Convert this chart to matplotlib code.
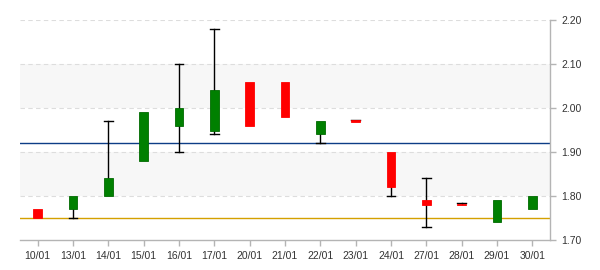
import numpy as np
import matplotlib.pyplot as plt

# daily candles
dates = ["10/01", "13/01", "14/01", "15/01", "16/01", "17/01", "20/01", "21/01",
         "22/01", "23/01", "24/01", "27/01", "28/01", "29/01", "30/01"]
opens  = [1.77, 1.77, 1.80, 1.88, 1.96, 1.948, 2.06, 2.06, 1.94, 1.972, 1.90, 1.79, 1.782, 1.74, 1.77]
closes = [1.75, 1.80, 1.84, 1.99, 2.00, 2.041, 1.96, 1.98, 1.97, 1.968, 1.82, 1.78, 1.779, 1.79, 1.80]
highs  = [1.77, 1.80, 1.97, 1.99, 2.10, 2.18, 2.06, 2.06, 1.97, 1.973, 1.90, 1.84, 1.784, 1.79, 1.80]
lows   = [1.75, 1.75, 1.80, 1.88, 1.90, 1.94, 1.96, 1.98, 1.92, 1.968, 1.80, 1.73, 1.779, 1.74, 1.77]

ref_line = 1.92      # dark blue reference line
floor_line = 1.75    # gold line
bands = [(1.80, 1.90), (2.00, 2.10)]
yticks = [1.70, 1.80, 1.90, 2.00, 2.10, 2.20]

plt.rcParams["font.family"] = ["Liberation Sans", "DejaVu Sans"]

fig = plt.figure(figsize=(6, 2.7), dpi=100)
ax = fig.add_axes([20 / 600, 1 - 240 / 270, 530 / 600, 220 / 270])

x = np.arange(len(dates))
for lo, hi in bands:
    ax.axhspan(lo, hi, color="#f7f7f7", zorder=0, lw=0)
for yv in yticks[1:]:
    ax.axhline(yv, color="#dddddd", lw=0.8, ls=(0, (4, 3)), zorder=1)

ax.axhline(ref_line, color="#0d3d86", lw=1.0, zorder=2)
ax.axhline(floor_line, color="#d4a000", lw=1.0, zorder=2)

w = 0.25
for xi, o, c, h, l in zip(x, opens, closes, highs, lows):
    top, bot = max(o, c), min(o, c)
    if h > top + 1e-6:
        ax.plot([xi, xi], [top, h], color="black", lw=1.0, zorder=3)
        ax.plot([xi - w / 2, xi + w / 2], [h, h], color="black", lw=1.0, zorder=3)
    if l < bot - 1e-6:
        ax.plot([xi, xi], [l, bot], color="black", lw=1.0, zorder=3)
        ax.plot([xi - w / 2, xi + w / 2], [l, l], color="black", lw=1.0, zorder=3)
    if c >= o:
        fc, ec = "#008000", "#006a00"
    else:
        fc, ec = "#ff0000", "#ff0000"
    ax.bar(xi, max(top - bot, 0.002), bottom=bot, width=w, color=fc,
           edgecolor=ec, lw=0.6, zorder=4)

ax.set_xlim(-0.5, len(dates) - 0.5)
ax.set_ylim(1.70, 2.20)
ax.set_xticks(x)
ax.set_xticklabels(dates)
ax.set_yticks(yticks)
ax.set_yticklabels([f"{v:.2f}" for v in yticks])
ax.yaxis.tick_right()

for side in ("top", "left"):
    ax.spines[side].set_visible(False)
for side in ("bottom", "right"):
    ax.spines[side].set_color("#b4b4b4")
    ax.spines[side].set_linewidth(1.0)
ax.tick_params(axis="both", colors="#b4b4b4", length=4, width=1,
               labelcolor="#333333", labelsize=7.5)
ax.tick_params(axis="x", pad=4)
ax.tick_params(axis="y", pad=4)

fig.savefig("out.png", dpi=100)
